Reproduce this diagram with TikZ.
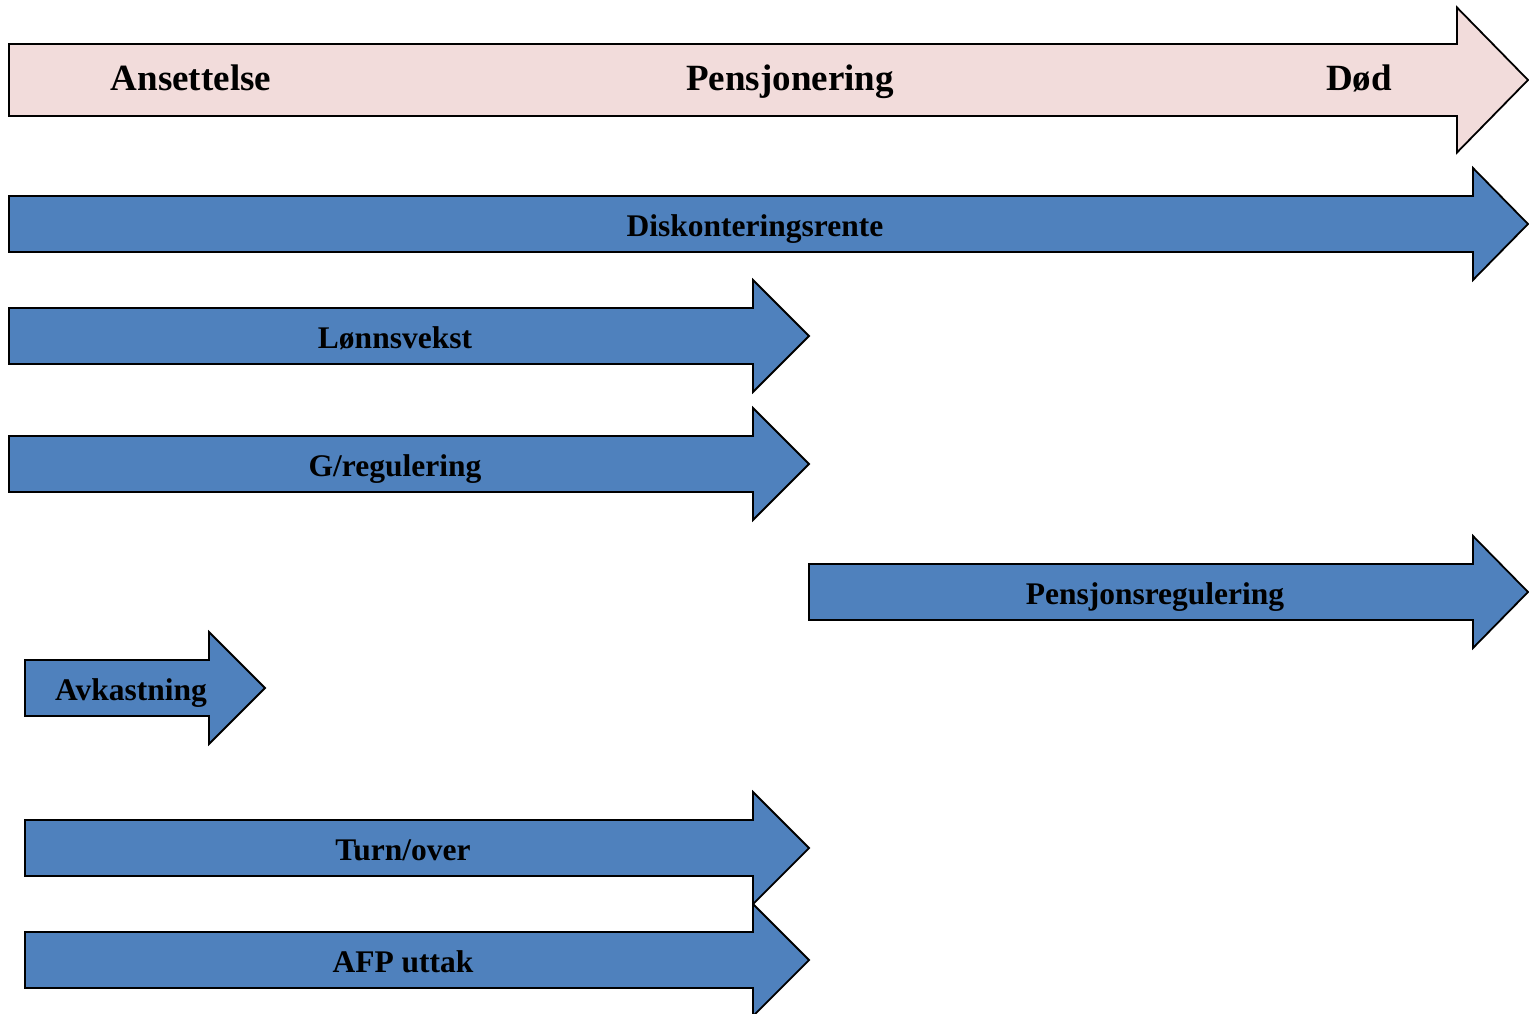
\documentclass[tikz,border=0pt]{standalone}
\usepackage{fontspec}
\setmainfont{Liberation Serif}
\definecolor{pinkfill}{HTML}{F2DCDB}
\definecolor{bluefill}{HTML}{4F81BD}
\newcommand\fatarrow[7]{%
  \filldraw[#1] (#2,#5-#6) -- (#3,#5-#6) -- (#3,#5-#7) -- (#4,#5) -- (#3,#5+#7) -- (#3,#5+#6) -- (#2,#5+#6) -- cycle;}
\begin{document}
\begin{tikzpicture}[x=1pt,y=-1pt,
  shaft/.style={draw=black,line width=1.8pt,line join=miter},
  pinkarrow/.style={shaft,fill=pinkfill},
  bluearrow/.style={shaft,fill=bluefill},
  biglabel/.style={anchor=base,inner sep=0pt,font=\fontsize{37}{40}\selectfont\bfseries},
  label/.style={anchor=base,inner sep=0pt,font=\fontsize{31.5}{34}\selectfont\bfseries}]
\useasboundingbox (0,0) rectangle (1529,1013);
\clip (0,0) rectangle (1529,1013);
\fatarrow{pinkarrow}{9}{1457}{1528}{80}{36}{72.5}
\fatarrow{bluearrow}{9}{1473}{1528}{224}{28}{56}
\fatarrow{bluearrow}{9}{753}{809}{336}{28}{56}
\fatarrow{bluearrow}{9}{753}{809}{464}{28}{56}
\fatarrow{bluearrow}{809}{1473}{1528}{592}{28}{56}
\fatarrow{bluearrow}{25}{209}{265}{688}{28}{56}
\fatarrow{bluearrow}{25}{753}{809}{848}{28}{56}
\fatarrow{bluearrow}{25}{753}{809}{960}{28}{56}
\node[biglabel] (ans) at (191,90) {Ansettelse};
\node[biglabel] (pen) at (790,90) {Pensjonering};
\node[biglabel] (dod) at (1359,90) {Død};
\node[label] (disk) at (755,236) {Diskonteringsrente};
\node[label] (lonn) at (395,348) {Lønnsvekst};
\node[label] (greg) at (395,476) {G/regulering};
\node[label] (preg) at (1155,604) {Pensjonsregulering};
\node[label] (avk) at (131,700) {Avkastning};
\node[label] (turn) at (403,860) {Turn/over};
\node[label] (afp) at (403,972) {AFP uttak};
\end{tikzpicture}
\end{document}
